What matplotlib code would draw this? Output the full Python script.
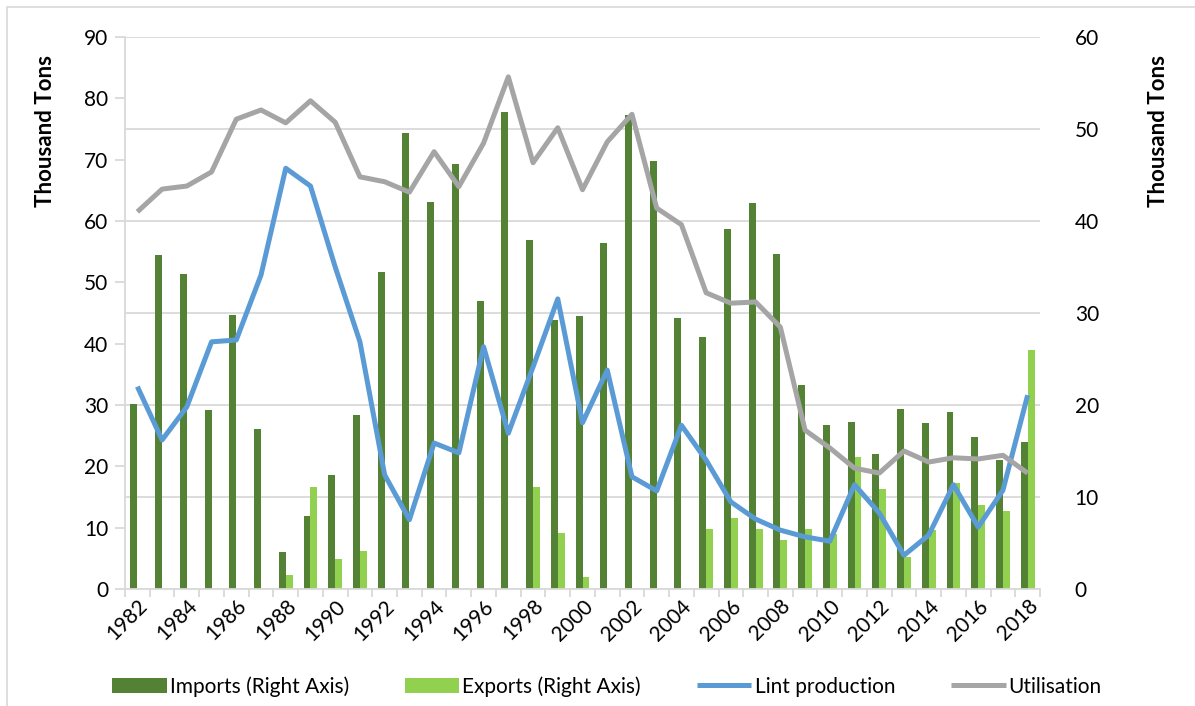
import matplotlib.pyplot as plt
import numpy as np
from matplotlib.patches import Rectangle

plt.rcParams['font.family'] = ['Lato', 'DejaVu Sans']

years = list(range(1982, 2019))

# right axis, thousand tons
imports = [20.1, 36.3, 34.2, 19.5, 29.8, 17.4, 4.0, 7.9, 12.4, 18.9,
           34.5, 49.6, 42.1, 46.2, 31.3, 51.8, 37.9, 29.2, 29.7, 37.6,
           51.5, 46.5, 29.5, 27.4, 39.1, 42.0, 36.4, 22.2, 17.8, 18.2,
           14.7, 19.6, 18.0, 19.2, 16.5, 14.0, 16.0]
exports = [0, 0, 0, 0, 0, 0, 1.5, 11.1, 3.3, 4.1,
           0, 0, 0, 0, 0, 0, 11.1, 6.1, 1.3, 0,
           0, 0, 0, 6.5, 7.7, 6.5, 5.3, 6.5, 6.0, 14.3,
           10.9, 3.5, 6.4, 11.5, 9.1, 8.5, 26.0]

# left axis, thousand tons
lint = [33.0, 24.3, 29.7, 40.3, 40.6, 51.2, 68.6, 65.7, 52.5, 40.3,
        18.6, 11.3, 23.8, 22.2, 39.5, 25.4, 36.2, 47.3, 27.1, 35.7,
        18.3, 16.0, 26.7, 21.0, 14.2, 11.4, 9.6, 8.5, 7.8, 17.0,
        12.4, 5.5, 8.8, 17.0, 10.1, 16.1, 31.6]
utilisation = [61.5, 65.2, 65.7, 68.0, 76.6, 78.1, 76.0, 79.6, 76.1, 67.2,
               66.4, 64.7, 71.3, 65.6, 72.7, 83.5, 69.5, 75.2, 65.1, 72.9,
               77.4, 62.1, 59.4, 48.3, 46.6, 46.8, 42.7, 25.9, 23.0, 19.7,
               18.9, 22.5, 20.7, 21.4, 21.2, 21.8, 18.9]

c_imp = '#548235'
c_exp = '#92d050'
c_lint = '#5b9bd5'
c_util = '#a5a5a5'
c_grid = '#d9d9d9'

fig = plt.figure(figsize=(11.95, 7.06), dpi=100)
ax = fig.add_axes([0.1046, 0.1657, 0.7657, 0.7819])
ax2 = ax.twinx()

x = np.arange(len(years))
w = 0.28
ax2.bar(x - w / 2, imports, w, color=c_imp, label='Imports (Right Axis)')
ax2.bar(x + w / 2, exports, w, color=c_exp, label='Exports (Right Axis)')

ax.plot(x, lint, color=c_lint, lw=3.6, label='Lint production', solid_capstyle='butt')
ax.plot(x, utilisation, color=c_util, lw=3.6, label='Utilisation', solid_capstyle='butt')

# lines above bars
ax.set_zorder(ax2.get_zorder() + 1)
ax.patch.set_visible(False)

ax.set_xlim(-0.5, len(years) - 0.5)
ax.set_ylim(0, 90)
ax2.set_ylim(0, 60)
ax.set_yticks(range(0, 91, 10))
ax2.set_yticks(range(0, 61, 10))

ax2.set_axisbelow(True)
ax2.yaxis.grid(True, color=c_grid, lw=1.3)

ax.set_xticks(x[::2])
ax.set_xticklabels([str(y) for y in years[::2]], rotation=45, ha='right',
                   rotation_mode='anchor', fontsize=15)
ax.set_xticks(np.arange(-0.5, len(years), 1), minor=True)
ax.tick_params(axis='x', which='major', length=0, pad=5)
ax.tick_params(axis='x', which='minor', length=6, color=c_grid, width=1.3)
ax.tick_params(axis='y', length=7, color=c_grid, width=1.3, labelsize=15, pad=5)
ax2.tick_params(axis='y', length=0, labelsize=15, pad=25)

for a in (ax, ax2):
    for s in a.spines.values():
        s.set_visible(False)
ax.spines['left'].set_visible(True)
ax.spines['left'].set_color(c_grid)
ax.spines['left'].set_linewidth(1.3)
ax.spines['bottom'].set_visible(True)
ax.spines['bottom'].set_color(c_grid)
ax.spines['bottom'].set_linewidth(1.3)

ax.set_ylabel('Thousand Tons', fontsize=16, fontweight='bold', va='center')
ax.yaxis.set_label_coords(-0.087, 0.83)
ax2.set_ylabel('Thousand Tons', fontsize=16, fontweight='bold', va='center', rotation=90)
ax2.yaxis.set_label_coords(1.13, 0.83)

h1, l1 = ax2.get_legend_handles_labels()
h2, l2 = ax.get_legend_handles_labels()
fig.legend(h1 + h2, l1 + l2, loc='center', bbox_to_anchor=(0.508, 0.028), ncol=4,
           frameon=False, fontsize=15, columnspacing=2.7, handlelength=2.6,
           handletextpad=0.15)

# outer chart border
fig.patches.append(Rectangle((0.006, -0.01), 0.999, 1.0, transform=fig.transFigure,
                             fill=False, edgecolor=c_grid, lw=1.2))

fig.savefig('out.png', dpi=100)
